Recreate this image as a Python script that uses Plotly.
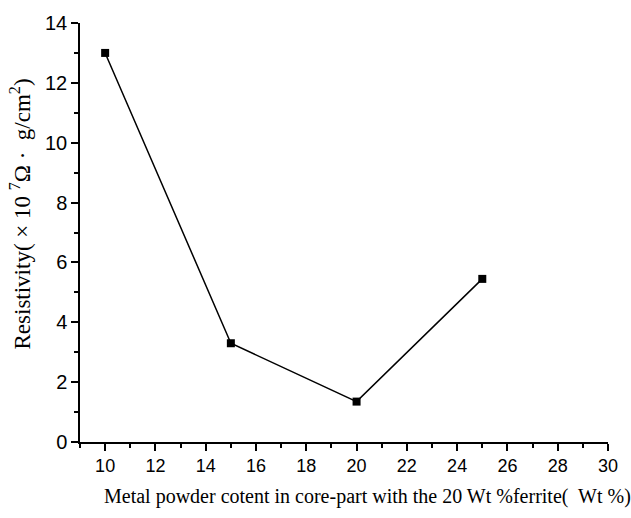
import plotly.graph_objects as go

metal_content = [10, 15, 20, 25]
resistivity = [13.0, 3.3, 1.35, 5.45]

x_title = "Metal powder cotent in core-part with the 20 Wt %ferrite(  Wt %)"
y_title = "Resistivity( × 10 <sup>7</sup>Ω ·  g/cm<sup>2</sup>)"

fig = go.Figure()
fig.add_trace(go.Scatter(
    x=metal_content, y=resistivity, mode="lines+markers",
    line=dict(color="black", width=1.5),
    marker=dict(symbol="square", size=8, color="black"),
    showlegend=False,
))

serif = "Liberation Serif, Times New Roman"
fig.update_layout(
    width=631, height=518,
    margin=dict(l=80, r=23, t=18, b=76),
    plot_bgcolor="white", paper_bgcolor="white",
    font=dict(family="Liberation Sans, Arial", color="black", size=19),
    annotations=[
        dict(text=x_title, xref="paper", yref="paper", x=0.545, y=-0.13,
             xanchor="center", yanchor="middle", showarrow=False,
             font=dict(family=serif, size=20)),
        dict(text=y_title, xref="paper", yref="paper", x=-0.112, y=0.545,
             xanchor="center", yanchor="middle", showarrow=False, textangle=-90,
             font=dict(family=serif, size=23)),
    ],
)
fig.update_xaxes(
    range=[9, 30], tickmode="linear", tick0=10, dtick=2,
    showline=True, linecolor="black", linewidth=1.5,
    ticks="outside", ticklen=7, tickwidth=1.5, tickcolor="black",
    minor=dict(ticks="outside", ticklen=4, tickwidth=1.5, tickcolor="black", dtick=1, tick0=9),
    showgrid=False, zeroline=False,
    tickfont=dict(size=18),
)
fig.update_yaxes(
    range=[0, 14], tickmode="linear", tick0=0, dtick=2,
    showline=True, linecolor="black", linewidth=1.5,
    ticks="outside", ticklen=7, tickwidth=1.5, tickcolor="black",
    minor=dict(ticks="outside", ticklen=4, tickwidth=1.5, tickcolor="black", dtick=1),
    showgrid=False, zeroline=False,
    tickfont=dict(size=20),
)

fig.write_html("out.html")
